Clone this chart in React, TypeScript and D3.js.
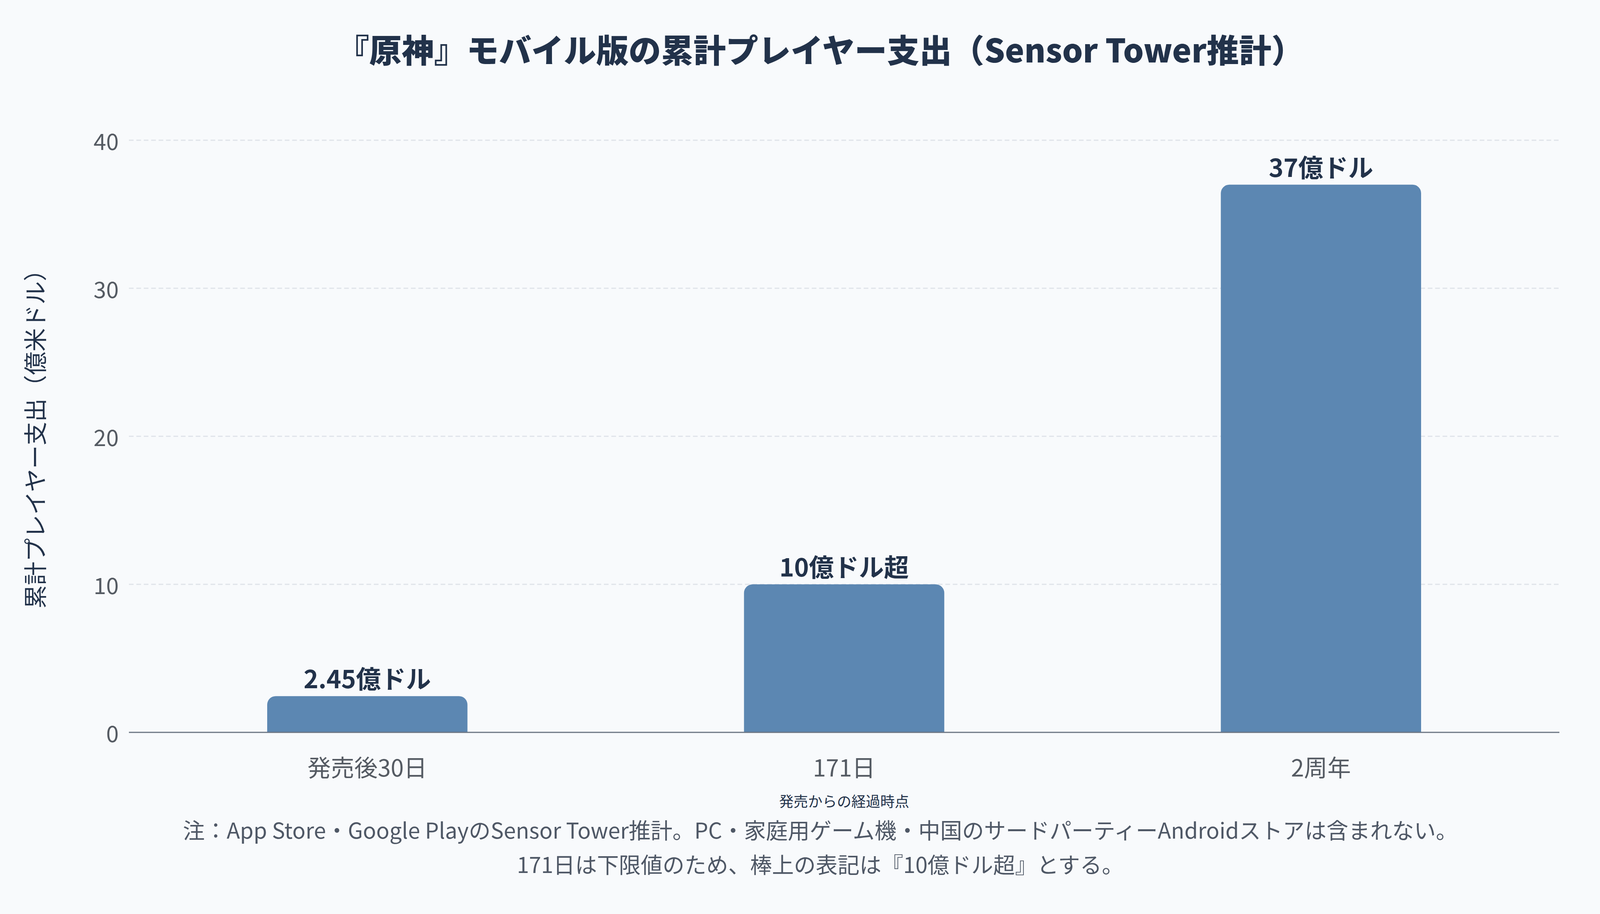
import React from "react";
import * as d3 from "d3";

const categories = ["発売後30日", "171日", "2周年"];
const values = [2.45, 10, 37];
const valueLabels = ["2.45億ドル", "10億ドル超", "37億ドル"];
const yTicks = [0, 10, 20, 30, 40];
const titleText = "『原神』モバイル版の累計プレイヤー支出（Sensor Tower推計）";
const yAxisTitle = "累計プレイヤー支出（億米ドル）";
const xAxisTitle = "発売からの経過時点";
const notes = [
  "注：App Store・Google PlayのSensor Tower推計。PC・家庭用ゲーム機・中国のサードパーティーAndroidストアは含まれない。",
  "171日は下限値のため、棒上の表記は『10億ドル超』とする。",
];

const W = 4200;
const H = 2340;
const M = { left: 330, right: 208, top: 359, bottom: 465 };
const FONT = "'Noto Sans CJK JP', 'Noto Sans', sans-serif";

function topRoundedBar(x: number, y: number, w: number, h: number, r: number) {
  const rr = Math.min(r, h, w / 2);
  const p = d3.path();
  p.moveTo(x, y + h);
  p.lineTo(x, y + rr);
  p.arcTo(x, y, x + rr, y, rr);
  p.lineTo(x + w - rr, y);
  p.arcTo(x + w, y, x + w, y + rr, rr);
  p.lineTo(x + w, y + h);
  p.closePath();
  return p.toString();
}

export default function App() {
  const x = d3
    .scaleBand<string>()
    .domain(categories)
    .range([M.left, W - M.right])
    .paddingInner(0.58)
    .paddingOuter(0.29);
  const y = d3.scaleLinear().domain([0, 40]).range([H - M.bottom, M.top]);
  const yTitleY = (M.top + H - M.bottom) / 2 + 20 - 28;

  return (
    <svg
      width={W}
      height={H}
      style={{ position: "absolute", left: 0, top: 0, background: "#f8fafc" }}
      fontFamily={FONT}
    >
      <rect x={0} y={0} width={W} height={H} fill="#f8fafc" />
      <text
        x={2100}
        y={124}
        textAnchor="middle"
        dominantBaseline="central"
        fontSize={83}
        fontWeight={800}
        fill="#22324a"
      >
        {titleText}
      </text>

      {yTicks.filter((t) => t !== 0).map((t) => (
        <line
          key={"g" + t}
          x1={M.left}
          x2={W - M.right}
          y1={y(t)}
          y2={y(t)}
          stroke="#dfe3e9"
          strokeWidth={3}
          strokeDasharray="12,7"
        />
      ))}
      {yTicks.map((t) => (
        <text
          key={"t" + t}
          x={M.left - 26}
          y={y(t)}
          textAnchor="end"
          dominantBaseline="central"
          fontSize={58}
          fill="#555b63"
        >
          {t}
        </text>
      ))}

      {categories.map((c, i) => {
        const bx = x(c) as number;
        const bw = x.bandwidth();
        const by = y(values[i]);
        return (
          <g key={c}>
            <path d={topRoundedBar(bx, by, bw, y(0) - by, 22)} fill="#5c87b2" />
            <text
              x={bx + bw / 2}
              y={by - 20}
              textAnchor="middle"
              fontSize={64}
              fontWeight={700}
              fill="#22324a"
            >
              {valueLabels[i]}
            </text>
            <text
              x={bx + bw / 2}
              y={1961}
              textAnchor="middle"
              dominantBaseline="central"
              fontSize={60}
              fill="#555b63"
            >
              {c}
            </text>
          </g>
        );
      })}

      <line
        x1={M.left}
        x2={W - M.right}
        y1={y(0)}
        y2={y(0)}
        stroke="#6b7582"
        strokeWidth={3}
      />

      <text
        x={86}
        y={yTitleY}
        transform={`rotate(-90, 86, ${yTitleY})`}
        textAnchor="middle"
        dominantBaseline="central"
        fontSize={60}
        fill="#22324a"
      >
        {yAxisTitle}
      </text>

      <text
        x={(M.left + W - M.right) / 2}
        y={2050}
        textAnchor="middle"
        dominantBaseline="central"
        fontSize={37}
        fill="#22324a"
      >
        {xAxisTitle}
      </text>

      {notes.map((n, i) => (
        <text
          key={i}
          x={2100}
          y={2122 + i * 88}
          textAnchor="middle"
          dominantBaseline="central"
          fontSize={56}
          fill="#4f5866"
        >
          {n}
        </text>
      ))}
    </svg>
  );
}
